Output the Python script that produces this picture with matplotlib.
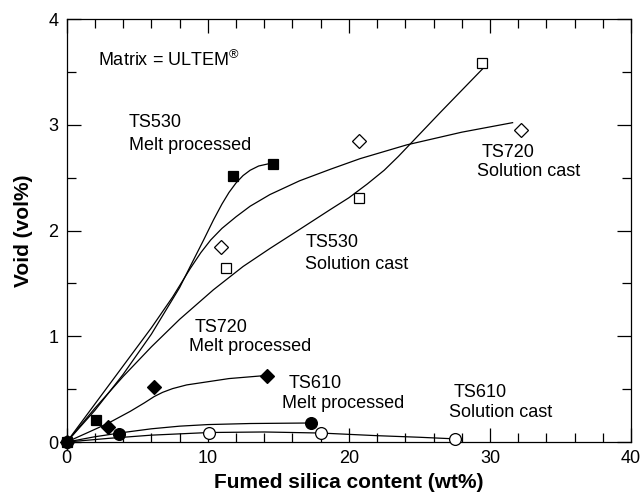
import matplotlib
matplotlib.use("Agg")
import matplotlib.pyplot as plt
from matplotlib.ticker import MultipleLocator

plt.rcParams["font.family"] = ["Liberation Sans", "DejaVu Sans"]
plt.rcParams["mathtext.fontset"] = "custom"
plt.rcParams["mathtext.rm"] = "Liberation Sans"

# measured void content (vol%) vs fumed silica loading (wt%)
ts530_melt_x = [0, 2.1, 11.8, 14.6]
ts530_melt_y = [0, 0.21, 2.52, 2.63]
ts530_sol_x = [11.3, 20.7, 29.4]
ts530_sol_y = [1.65, 2.31, 3.58]
ts720_sol_x = [10.9, 20.7, 32.2]
ts720_sol_y = [1.84, 2.85, 2.95]
ts720_melt_x = [0, 2.9, 6.2, 14.2]
ts720_melt_y = [0, 0.14, 0.52, 0.62]
ts610_melt_x = [0, 3.7, 17.3]
ts610_melt_y = [0, 0.08, 0.18]
ts610_sol_x = [10.1, 18.05, 27.5]
ts610_sol_y = [0.09, 0.085, 0.03]

# fitted trend curves
fit_530m_x = [0, 2, 4, 6, 8, 8.75, 9.7, 10.4, 11.0, 11.5, 12.0, 12.5, 13.0, 13.6, 14.6]
fit_530m_y = [0, 0.30, 0.64, 1.02, 1.46, 1.66, 1.91, 2.10, 2.25, 2.36, 2.45, 2.52, 2.57, 2.61, 2.64]
fit_720s_x = [0, 2, 4, 6, 7.5, 8.75, 9.5, 10.2, 11, 12, 13, 14.4, 16.5, 18.7, 20.8, 24.1, 28, 31.6]
fit_720s_y = [0, 0.36, 0.72, 1.08, 1.37, 1.64, 1.79, 1.91, 2.02, 2.13, 2.23, 2.34, 2.47, 2.58, 2.68, 2.81, 2.93, 3.02]
fit_530s_x = [0, 2, 4, 6, 8, 10.4, 12.5, 14.4, 16.5, 18.7, 20.0, 21.3, 22.5, 23.5, 24.5, 26.5, 29.7]
fit_530s_y = [0, 0.32, 0.62, 0.90, 1.16, 1.44, 1.66, 1.83, 2.01, 2.20, 2.31, 2.44, 2.57, 2.70, 2.84, 3.12, 3.56]
fit_720m_x = [0, 1.5, 2.9, 4.5, 5.5, 6.2, 6.8, 7.5, 8.5, 10, 11.5, 14.2]
fit_720m_y = [0, 0.09, 0.175, 0.29, 0.37, 0.43, 0.47, 0.505, 0.54, 0.57, 0.60, 0.63]
fit_610m_x = [0, 2, 4, 6, 8, 10, 13, 17.3]
fit_610m_y = [0, 0.05, 0.09, 0.125, 0.15, 0.165, 0.175, 0.18]
fit_610s_x = [0, 3, 6, 10.1, 14, 18, 22, 25, 27.5]
fit_610s_y = [0, 0.035, 0.065, 0.09, 0.095, 0.085, 0.06, 0.045, 0.03]

fig = plt.figure(figsize=(6.44, 4.98), dpi=100)
ax = fig.add_axes([0.1036, 0.1124, 0.8764, 0.8494])

lw = 0.9
for fx, fy in [(fit_530m_x, fit_530m_y), (fit_720s_x, fit_720s_y),
               (fit_530s_x, fit_530s_y), (fit_720m_x, fit_720m_y),
               (fit_610m_x, fit_610m_y), (fit_610s_x, fit_610s_y)]:
    ax.plot(fx, fy, color="black", lw=lw, zorder=2, solid_joinstyle="round")

open_kw = dict(ls="none", mfc="white", mec="black", mew=0.9, zorder=3, clip_on=False)
fill_kw = dict(ls="none", mfc="black", mec="black", mew=0.9, zorder=4, clip_on=False)
ax.plot(ts530_sol_x, ts530_sol_y, marker="s", ms=7.5, **open_kw)
ax.plot(ts720_sol_x, ts720_sol_y, marker="D", ms=7.5, **open_kw)
ax.plot(ts610_sol_x, ts610_sol_y, marker="o", ms=8.5, **open_kw)
ax.plot(ts530_melt_x, ts530_melt_y, marker="s", ms=7.5, **fill_kw)
ax.plot(ts720_melt_x, ts720_melt_y, marker="D", ms=7.5, **fill_kw)
ax.plot(ts610_melt_x, ts610_melt_y, marker="o", ms=8.5, **fill_kw)

fs = 13
ax.text(2.2, 3.61, "Matrix = ULTEM$^{\\mathrm{®}}$", fontsize=fs, va="center")
labels = [
    (4.36, 3.02, "TS530"), (4.43, 2.80, "Melt processed"),
    (16.9, 1.89, "TS530"), (16.9, 1.68, "Solution cast"),
    (29.4, 2.74, "TS720"), (29.1, 2.56, "Solution cast"),
    (9.06, 1.08, "TS720"), (8.7, 0.90, "Melt processed"),
    (15.7, 0.555, "TS610"), (15.25, 0.366, "Melt processed"),
    (27.4, 0.466, "TS610"), (27.1, 0.28, "Solution cast"),
]
for lx, ly, s in labels:
    ax.text(lx, ly, s, fontsize=fs, va="center", ha="left")

ax.set_xlim(0, 40)
ax.set_ylim(0, 4)
ax.xaxis.set_major_locator(MultipleLocator(10))
ax.xaxis.set_minor_locator(MultipleLocator(2))
ax.yaxis.set_major_locator(MultipleLocator(1))
ax.yaxis.set_minor_locator(MultipleLocator(0.5))
ax.tick_params(which="both", direction="in", top=True, right=True, width=0.9,
               labelsize=13, pad=6)
ax.tick_params(which="major", length=10)
ax.tick_params(which="minor", length=6.5)
for sp in ax.spines.values():
    sp.set_linewidth(0.9)

ax.set_xlabel("Fumed silica content (wt%)", fontsize=15, fontweight="bold", labelpad=4)
ax.set_ylabel("Void (vol%)", fontsize=15, fontweight="bold", labelpad=11)

fig.savefig("out.png", dpi=100)
